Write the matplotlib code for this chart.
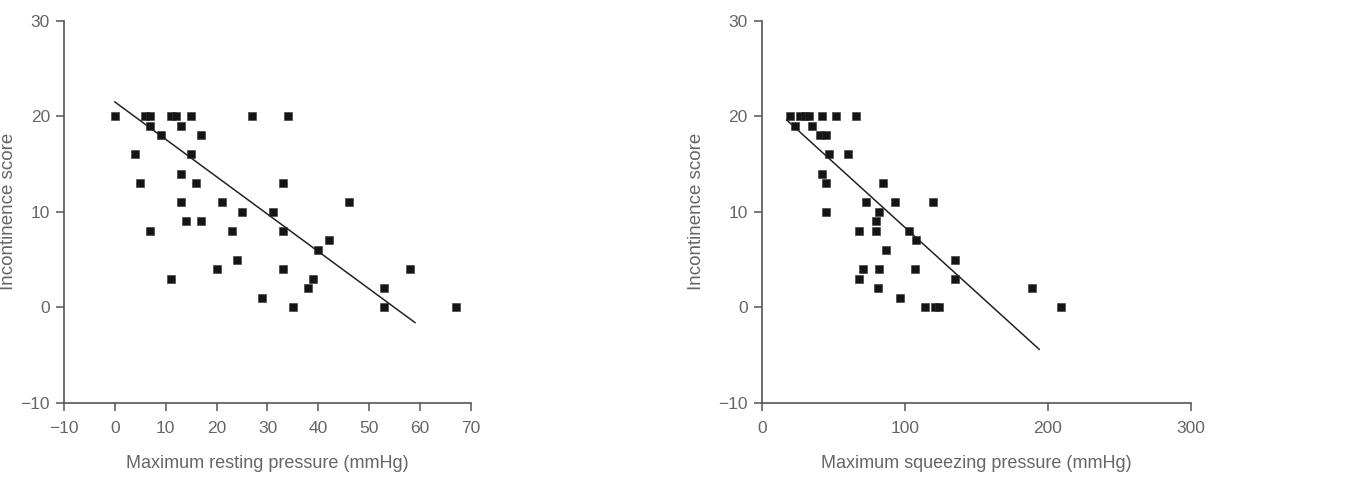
import matplotlib
matplotlib.use("Agg")
import matplotlib.pyplot as plt
import numpy as np

plt.rcParams['font.family'] = ['Liberation Sans', 'DejaVu Sans']

# Left panel: maximum resting pressure vs incontinence score
rest_x = [0, 6, 7, 7, 9, 4, 5, 7, 11, 12, 13, 15, 17, 15, 13, 16, 13, 14, 17, 11,
          21, 25, 23, 24, 20, 27, 34, 33, 31, 33, 33, 29, 35, 38, 39, 40, 42, 46,
          53, 53, 58, 67]
rest_y = [20, 20, 20, 19, 18, 16, 13, 8, 20, 20, 19, 20, 18, 16, 14, 13, 11, 9, 9, 3,
          11, 10, 8, 5, 4, 20, 20, 13, 10, 8, 4, 1, 0, 2, 3, 6, 7, 11,
          2, 0, 4, 0]
rest_fit_x = [0, 59]
rest_fit_y = [21.5, -1.6]

# Right panel: maximum squeezing pressure vs incontinence score
sq_x = [20, 23, 27, 30, 33, 35, 42, 52, 66, 41, 45, 47, 60, 42, 45, 45, 85, 73, 93,
        120, 82, 68, 80, 80, 103, 108, 87, 71, 68, 82, 81, 107, 97, 114, 121, 124,
        135, 135, 189, 209]
sq_y = [20, 19, 20, 20, 20, 19, 20, 20, 20, 18, 18, 16, 16, 14, 13, 10, 13, 11, 11,
        11, 10, 8, 9, 8, 8, 7, 6, 4, 3, 4, 2, 4, 1, 0, 0, 0,
        5, 3, 2, 0]
sq_fit_x = [17.5, 194]
sq_fit_y = [19.6, -4.4]

y_ticks = [-10, 0, 10, 20, 30]
rest_ticks = [-10, 0, 10, 20, 30, 40, 50, 60, 70]
sq_ticks = [0, 100, 200, 300]

grey = '#555555'
txt = '#666666'

fig = plt.figure(figsize=(13.53, 4.83), dpi=100)
ax1 = fig.add_axes([0.0473, 0.166, 0.3008, 0.791])
ax2 = fig.add_axes([0.5630, 0.166, 0.3171, 0.791])

panels = [
    (ax1, rest_x, rest_y, rest_fit_x, rest_fit_y, rest_ticks, (-10, 70),
     'Maximum resting pressure (mmHg)', -0.116),
    (ax2, sq_x, sq_y, sq_fit_x, sq_fit_y, sq_ticks, (0, 300),
     'Maximum squeezing pressure (mmHg)', -0.133),
]

for ax, xs, ys, fx, fy, xt, xl, lab, ylx in panels:
    ax.plot(fx, fy, color='#222222', lw=1.1, zorder=2)
    ax.scatter(xs, ys, marker='s', s=34, color='#151515', edgecolors='#333333',
               linewidths=0.4, zorder=3)
    ax.set_xlim(*xl)
    ax.set_ylim(-10, 30)
    ax.set_xticks(xt)
    ax.set_yticks(y_ticks)
    ax.set_xticklabels(['\u2212' + str(abs(t)) if t < 0 else str(t) for t in xt])
    ax.set_yticklabels(['\u2212' + str(abs(t)) if t < 0 else str(t) for t in y_ticks])
    for s in ['top', 'right']:
        ax.spines[s].set_visible(False)
    for s in ['left', 'bottom']:
        ax.spines[s].set_color(grey)
        ax.spines[s].set_linewidth(1.2)
    ax.tick_params(direction='out', length=6, width=1.1, color=grey,
                   labelcolor=txt, labelsize=12.5, pad=4)
    ax.tick_params(axis='x', pad=7)
    ax.set_xlabel(lab, fontsize=13, color=txt, labelpad=14)
    ax.set_ylabel('Incontinence score', fontsize=13.5, color=txt)
    ax.yaxis.set_label_coords(ylx, 0.5)

fig.savefig('out.png', dpi=100)
